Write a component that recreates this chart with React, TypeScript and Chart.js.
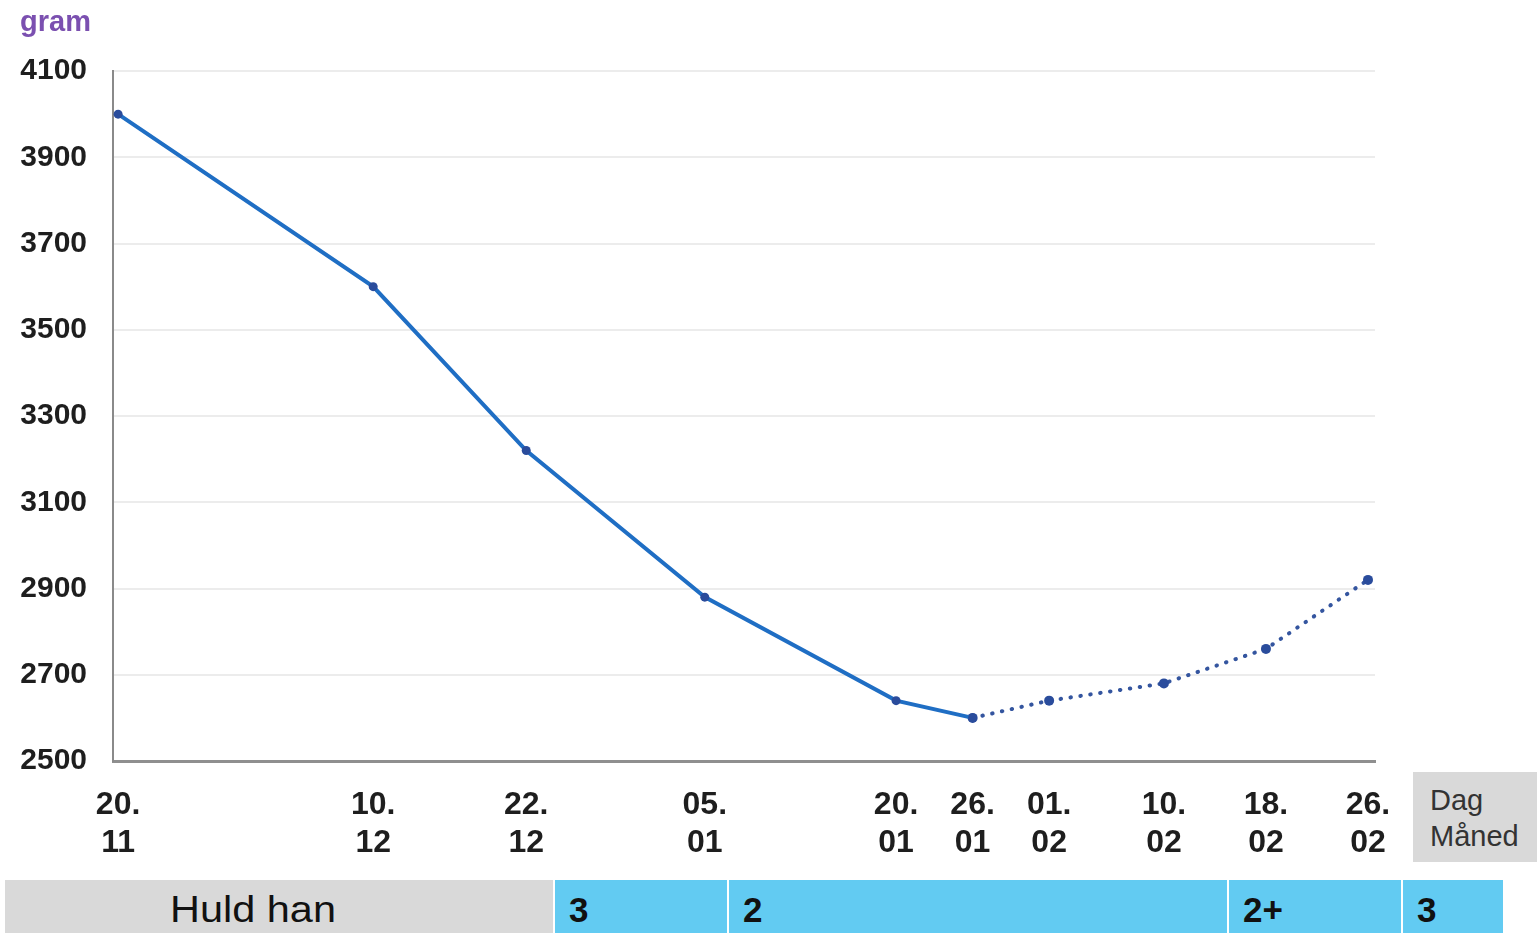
import React, { useEffect, useRef } from "react";
import { Chart, registerables } from "chart.js";

Chart.register(...registerables);

// Data
const dayLabels = ["20.", "10.", "22.", "05.", "20.", "26.", "01.", "10.", "18.", "26."];
const monthLabels = ["11", "12", "12", "01", "01", "01", "02", "02", "02", "02"];
const dayOffsets = [0, 20, 32, 46, 61, 67, 73, 82, 90, 98];
const weights = [4000, 3600, 3220, 2880, 2640, 2600, 2640, 2680, 2760, 2920];
const measuredCount = 6; // first 6 points are solid, rest dotted (from 26.01)
const yTicks = [2500, 2700, 2900, 3100, 3300, 3500, 3700, 3900, 4100];
const conditionLabel = "Huld han";
const conditionScores = ["3", "2", "2+", "3"];

const FONT = "'Liberation Sans', Arial, Helvetica, sans-serif";

export default function App() {
  const ref = useRef<HTMLCanvasElement | null>(null);

  useEffect(() => {
    document.body.style.margin = "0";
    const canvas = ref.current;
    if (!canvas) return;
    const pts = dayOffsets.map((x, i) => ({ x, y: weights[i] }));
    const solid = pts.slice(0, measuredCount);
    const dotted = pts.slice(measuredCount - 1);
    const chart = new Chart(canvas, {
      type: "line",
      data: {
        datasets: [
          {
            data: solid,
            borderColor: "#1f6ec4",
            borderWidth: 4,
            pointRadius: 4.5,
            pointBackgroundColor: "#2a4c9c",
            pointBorderColor: "#2a4c9c",
            pointBorderWidth: 0,
            tension: 0,
            clip: false as any,
          },
          {
            data: dotted,
            borderColor: "#34559f",
            borderWidth: 4,
            borderDash: [0.5, 9.5],
            borderCapStyle: "round",
            pointRadius: 5,
            pointBackgroundColor: "#2a4c9c",
            pointBorderColor: "#2a4c9c",
            pointBorderWidth: 0,
            tension: 0,
            clip: false as any,
          },
        ],
      },
      options: {
        animation: false,
        responsive: false,
        devicePixelRatio: 1,
        layout: { padding: { top: 71, right: 162, left: 0, bottom: 0 } },
        plugins: { legend: { display: false }, tooltip: { enabled: false } },
        scales: {
          x: {
            type: "linear",
            min: -0.4,
            max: 98.55,
            afterFit: (s: any) => {
              s.height = 114;
            },
            afterBuildTicks: (s: any) => {
              s.ticks = dayOffsets.map((v) => ({ value: v }));
            },
            grid: { display: false, drawTicks: false },
            border: { display: true, color: "#8f8f8f", width: 3 },
            ticks: {
              autoSkip: false,
              maxRotation: 0,
              padding: 25,
              color: "#1e1e1e",
              font: { family: FONT, size: 32, weight: "bold", lineHeight: 1.2 },
              callback: (_v: any, i: number) => [dayLabels[i], monthLabels[i]],
            },
          },
          y: {
            min: 2500,
            max: 4100,
            afterFit: (s: any) => {
              s.width = 113;
            },
            afterBuildTicks: (s: any) => {
              s.ticks = yTicks.map((v) => ({ value: v }));
            },
            grid: { color: "#ececec", lineWidth: 2, drawTicks: false },
            border: { display: true, color: "#8a8a8a", width: 2 },
            ticks: {
              padding: 26,
              color: "#1e1e1e",
              font: { family: FONT, size: 30, weight: "bold" },
              callback: (v: any) => String(v),
            },
          },
        },
      },
    });
    return () => chart.destroy();
  }, []);

  const cellBase: React.CSSProperties = {
    position: "absolute",
    top: 880,
    height: 60,
    fontFamily: FONT,
    fontSize: 35,
    color: "#111",
    lineHeight: "60px",
    boxSizing: "border-box",
  };
  const blue = "#62cbf2";
  const blueCells = [
    { left: 555, width: 172 },
    { left: 729, width: 498 },
    { left: 1229, width: 172 },
    { left: 1403, width: 100 },
  ];

  return (
    <div style={{ position: "relative", width: 1537, height: 933, overflow: "hidden", background: "#fff" }}>
      <canvas ref={ref} width={1537} height={875} style={{ position: "absolute", left: 0, top: 0, width: 1537, height: 875 }} />
      <div
        style={{
          position: "absolute",
          left: 20,
          top: 5,
          fontFamily: FONT,
          fontWeight: "bold",
          fontSize: 29,
          color: "#7b50b0",
        }}
      >
        gram
      </div>
      <div
        style={{
          position: "absolute",
          left: 1413,
          top: 772,
          width: 124,
          height: 90,
          background: "#d9d9d9",
          fontFamily: FONT,
          fontSize: 29,
          color: "#333",
          lineHeight: "36px",
          paddingLeft: 17,
          paddingTop: 10,
          boxSizing: "border-box",
          whiteSpace: "pre",
        }}
      >
        {"Dag\nMåned"}
      </div>
      <div
        style={{
          ...cellBase,
          left: 5,
          width: 548,
          background: "#d9d9d9",
        }}
      >
        <span
          style={{
            position: "absolute",
            left: 248,
            top: 0,
            transform: "translateX(-50%) scaleX(1.12)",
            whiteSpace: "pre",
            fontSize: 37,
          }}
        >
          {conditionLabel}
        </span>
      </div>
      {blueCells.map((c, i) => (
        <div
          key={i}
          style={{
            ...cellBase,
            left: c.left,
            width: c.width,
            background: blue,
            paddingLeft: 14,
            fontWeight: "bold",
          }}
        >
          {conditionScores[i]}
        </div>
      ))}
    </div>
  );
}
